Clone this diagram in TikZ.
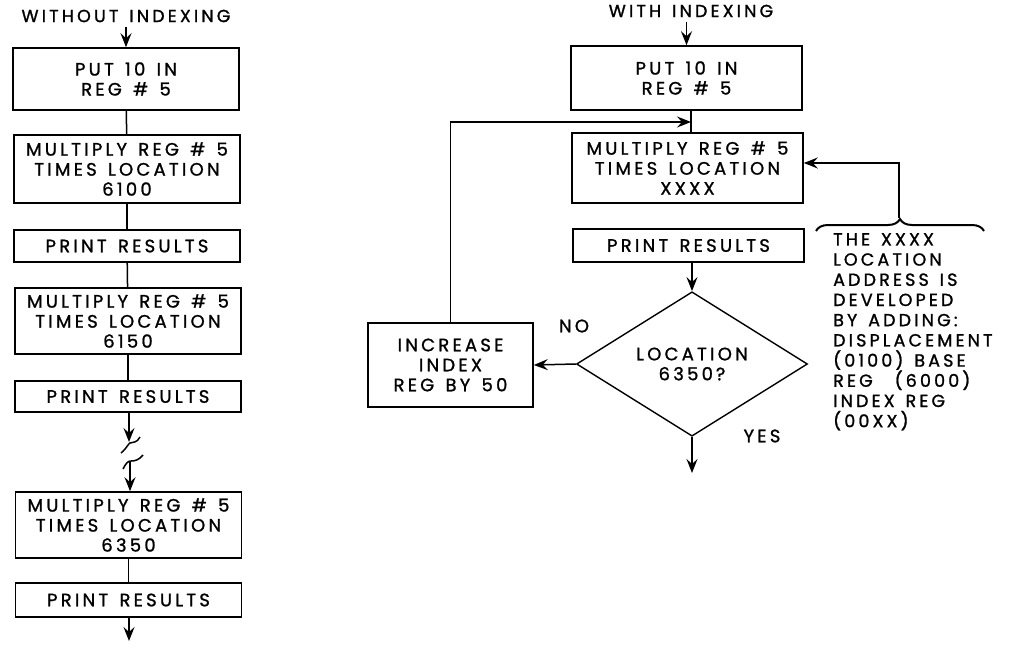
\documentclass[tikz,border=0pt]{standalone}
\usepackage{fontspec}
\setmainfont{Poppins}[LetterSpace=18, WordSpace=1.4, FakeBold=1.2]
\usetikzlibrary{arrows.meta,positioning,shapes.geometric,decorations.pathreplacing}
\newcommand{\boxfont}{\fontsize{18}{20}\selectfont}
\tikzset{
  blk/.style={draw, line width=1.6pt, align=center, inner sep=1pt, minimum width=226pt, font=\boxfont},
  dec/.style={draw, shape=diamond, line width=1.4pt, inner sep=0pt, minimum width=231pt, minimum height=132pt, align=center, font=\boxfont},
  ar/.style={-{Stealth[length=14pt,width=11pt,inset=5pt]}, line width=1.5pt},
  ln/.style={line width=1.5pt},
  lbl/.style={font=\boxfont, inner sep=0pt, align=left},
}
\begin{document}
\begin{tikzpicture}[x=1pt,y=-1pt]
        \useasboundingbox (0,0) rectangle (1022,650);
        % without indexing
        \node[lbl, font=\fontsize{17.5}{20}\selectfont] (tl) at (126,16) {WITHOUT INDEXING};
        \node[blk, minimum height=62pt] (l1) at (126,79) {PUT 10 IN\\REG \# 5};
        \node[blk, minimum height=68pt] (l2) at (127,169) {MULTIPLY REG \# 5\\TIMES LOCATION\\6100};
        \node[blk, minimum height=32pt] (l3) at (127,246) {PRINT RESULTS};
        \node[blk, minimum height=66pt] (l4) at (128,321) {MULTIPLY REG \# 5\\TIMES LOCATION\\6150};
        \node[blk, minimum height=31pt] (l5) at (128,396.5) {PRINT RESULTS};
        \node[blk, minimum height=66pt] (l6) at (128.5,525) {MULTIPLY REG \# 5\\TIMES LOCATION\\6350};
        \node[blk, minimum height=34pt] (l7) at (128.5,600) {PRINT RESULTS};
        \coordinate (brk1) at (129,442);
        \coordinate (brk2) at (130,461);
        \coordinate (lend) at (129,641);
        \draw[ar, shorten <=5pt] (tl) -- (tl.south |- l1.north);
        \draw[ln] (l1) -- (l2); \draw[ln] (l2) -- (l3); \draw[ln] (l3) -- (l4); \draw[ln] (l4) -- (l5);
        \draw[ar] (l5.south -| brk1) -- (brk1);
        \draw[ln] (121,453) .. controls (127,448) and (128,444) .. (130,443) .. controls (133,442) and (137,443) .. (140,437);
        \draw[ln] (123,469) .. controls (126,463) and (128,461) .. (131,461) .. controls (135,461) and (139,460) .. (143,455);
        \draw[ar] (brk2) -- (l6.north -| brk2);
        \draw[ln] (l6) -- (l7);
        \draw[ar] (l7.south -| lend) -- (lend);
        % with indexing
        \node[lbl, font=\fontsize{17.5}{20}\selectfont] (tr) at (691,11) {WITH INDEXING};
        \node[blk, minimum width=231pt, minimum height=64pt] (r1) at (686.5,78) {PUT 10 IN\\REG \# 5};
        \node[blk, minimum width=231pt, minimum height=70pt] (r2) at (687.5,168) {MULTIPLY REG \# 5\\TIMES LOCATION\\XXXX};
        \node[blk, minimum width=231pt, minimum height=33pt] (r3) at (688.5,245.5) {PRINT RESULTS};
        \node[dec] (ds) at (692,364) {LOCATION\\6350\,?};
        \node[blk, minimum width=165pt, minimum height=84pt] (inc) at (450.5,365) {INCREASE\\INDEX\\REG BY 50};
        \node[lbl] (no) at (574,326) {NO};
        \node[lbl] (yes) at (762,436) {YES};
        \coordinate (join) at (691,122);
        \coordinate (rend) at (692,473);
        \draw[ar, shorten <=5pt] (tr.south -| r1) -- (r1);
        \draw[ln] (r1.south -| join) -- (r2.north -| join);
        \draw[ar] (inc.north) |- (join);
        \draw[ar] (r3.south -| ds) -- (ds.north);
        \draw[ar] (ds.west) -- (inc.east);
        \draw[ar] (ds.south) -- (rend);
        % address note
        \coordinate (bt) at (899,218);
        \coordinate (bh) at (899,163);
        \draw[decorate, decoration={brace, amplitude=12pt}, line width=2pt] (816,231) -- (984,231);
        \draw[ar] (bt) -- (bh) -- (bh -| r2.east);
        \node[lbl, anchor=north west, font=\fontsize{17.5}{20.2}\selectfont] (note) at (833,233) {THE XXXX\\LOCATION\\ADDRESS IS\\DEVELOPED\\BY ADDING:\\DISPLACEMENT\\(0100) BASE\\REG \ (6000)\\INDEX REG\\(00XX)};
      \end{tikzpicture}
\end{document}
